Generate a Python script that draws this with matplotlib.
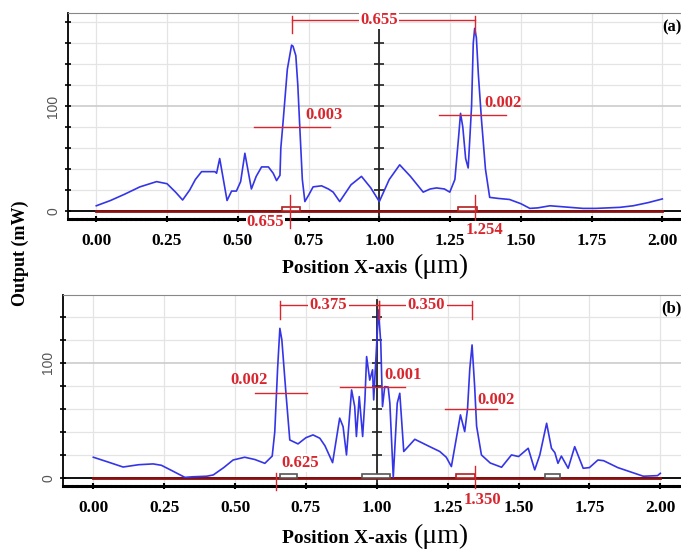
import numpy as np
import matplotlib.pyplot as plt
from matplotlib.patches import Rectangle

# panel (a) output along x
xa = [0.0, 0.05, 0.10, 0.154, 0.213, 0.25, 0.28, 0.305, 0.33, 0.35, 0.372, 0.419, 0.425,
      0.436, 0.462, 0.478, 0.495, 0.51, 0.525, 0.548, 0.565, 0.584, 0.608, 0.625, 0.637,
      0.649, 0.652, 0.66, 0.675, 0.69, 0.695, 0.705, 0.712, 0.719, 0.728, 0.737, 0.75,
      0.766, 0.796, 0.82, 0.837, 0.86, 0.90, 0.937, 0.97, 1.0, 1.035, 1.072, 1.11, 1.155,
      1.18, 1.202, 1.23, 1.249, 1.267, 1.28, 1.287, 1.295, 1.305, 1.314, 1.32, 1.326,
      1.332, 1.337, 1.343, 1.35, 1.361, 1.375, 1.39, 1.42, 1.46, 1.5, 1.532, 1.56, 1.603,
      1.65, 1.72, 1.765, 1.85, 1.897, 1.95, 2.0]
ya = [5, 10, 16, 23, 28, 26, 18, 10.5, 20, 30, 37.5, 37.5, 36,
      50, 10, 19, 19, 28, 55, 21, 33, 42, 42, 36, 29,
      34, 60, 85, 135, 158, 157, 148, 120, 80, 30, 9, 15,
      23, 24, 21, 18, 9, 25, 33, 22, 9, 30, 44, 33, 18,
      21, 22, 21, 18, 30, 70, 93, 80, 50, 41, 70, 100,
      160, 174, 165, 130, 87, 40, 13, 12, 11, 7, 2.5, 3, 5,
      4, 2.5, 2.5, 3.5, 5, 8, 11.5]

# panel (b) output along x
xb = [0.0, 0.05, 0.105, 0.16, 0.211, 0.24, 0.28, 0.323, 0.35, 0.4, 0.423, 0.46, 0.493,
      0.534, 0.57, 0.605, 0.631, 0.64, 0.65, 0.658, 0.665, 0.679, 0.693, 0.722, 0.75,
      0.775, 0.799, 0.817, 0.844, 0.869, 0.881, 0.893, 0.911, 0.922, 0.928, 0.938, 0.95,
      0.958, 0.964, 0.975, 0.985, 0.989, 0.997, 1.006, 1.014, 1.02, 1.028, 1.04, 1.046,
      1.058, 1.072, 1.081, 1.095, 1.134, 1.18, 1.222, 1.245, 1.263, 1.295, 1.31, 1.32,
      1.328, 1.336, 1.345, 1.352, 1.369, 1.40, 1.44, 1.475, 1.5, 1.534, 1.557, 1.575,
      1.599, 1.616, 1.628, 1.639, 1.651, 1.675, 1.698, 1.728, 1.75, 1.78, 1.80, 1.85,
      1.892, 1.94, 1.99, 2.0]
yb = [18, 14, 9.5, 11.5, 12.2, 11, 6, 0.5, 1, 1.5, 2.6, 9, 15.6,
      18, 16, 12.7, 19, 40, 95, 130, 120, 75, 33, 29.6, 35,
      37.4, 34.5, 28, 13.3, 52, 44.6, 20, 76.5, 62, 36, 70.7, 36,
      67.8, 105.5, 85, 94, 67.8, 105, 146, 117, 62, 79.4, 79, 65,
      0.5, 65, 73.6, 23, 33.6, 28, 23, 18, 9.9, 54.8, 40.3, 60,
      95, 115.6, 80, 45, 20, 13, 9.3, 20, 18.6, 25.8, 7, 20,
      47.5, 25.8, 22, 12.7, 19, 8.4, 27.2, 8.4, 9, 15.6, 15, 9,
      5.5, 1.5, 2, 4]

xticks = [0.0, 0.25, 0.5, 0.75, 1.0, 1.25, 1.5, 1.75, 2.0]
xtick_labels = ['0.00', '0.25', '0.50', '0.75', '1.00', '1.25', '1.50', '1.75', '2.00']

# peak-distance brackets: (x1, x2, y, label, label_x)
top_a = [(0.69, 1.337, 182, '0.655', 1.0)]
top_b = [(0.658, 1.006, 150, '0.375', 0.83), (1.006, 1.336, 150, '0.350', 1.175)]
# width markers: (x1, x2, y, label, label_x, label_y)
fw_a = [(0.557, 0.825, 80.3, '0.003', 0.74, 91), (1.211, 1.447, 91.4, '0.002', 1.37, 103)]
fw_b = [(0.57, 0.752, 74.2, '0.002', 0.485, 85), (0.869, 1.099, 79.4, '0.001', 1.028, 89.6),
        (1.24, 1.424, 59.7, '0.002', 1.356, 68)]
# cursor markers at bottom: (x, y1, y2, label, label_x, label_y)
cur_a = [(0.684, -16, 15, '0.655', 0.53, -10.5), (1.337, -9, 15, '1.254', 1.305, -18)]
cur_b = [(0.646, -10.5, 4, '0.625', 0.662, 13), (1.345, -9, 10, '1.350', 1.305, -19)]
# small boxes on the base line: (x1, x2, edge colour)
box_a = [(0.655, 0.72, '#b02020'), (1.278, 1.345, '#b02020')]
box_b = [(0.66, 0.72, '#555555'), (0.946, 1.046, '#555555'), (1.28, 1.345, '#b02020'),
         (1.593, 1.646, '#555555')]

RED = '#d9262e'
serif = 'Liberation Serif'

fig = plt.figure(figsize=(6.81, 5.49), dpi=100)
ax1 = fig.add_axes([68 / 681, 1 - 219 / 549, 613 / 681, 206 / 549])
ax2 = fig.add_axes([63 / 681, 1 - 486 / 549, 618 / 681, 191 / 549])


def panel(ax, x, y, xlim, ylim, ytop, tops, fws, curs, boxes, tag):
    ax.set_xlim(*xlim)
    ax.set_ylim(*ylim)
    ax.set_xticks(xticks)
    ax.set_xticklabels(xtick_labels, fontfamily=serif, fontweight='bold', fontsize=12.5)
    ax.set_yticks([0, 100])
    ax.set_yticks(np.arange(20, ytop, 20), minor=True)
    ax.set_yticklabels(['0', '100'], rotation=90, va='center', color='#555555',
                       fontfamily='Liberation Sans', fontsize=10)
    ax.tick_params(axis='x', direction='inout', length=4, width=1.5, pad=8)
    ax.tick_params(axis='y', which='both', direction='inout', length=5, width=1.2, pad=3)
    ax.grid(True, which='both', color='#e4e4e4', lw=0.9)
    ax.grid(True, which='major', axis='y', color='#cccccc', lw=1.2)
    ax.set_axisbelow(True)
    ax.spines['right'].set_visible(False)
    ax.spines['top'].set_linestyle((0, (1, 1)))
    ax.spines['top'].set_color('#888888')
    ax.spines['bottom'].set_linewidth(2.2)
    ax.spines['bottom'].set_linestyle((0, (1, 0.6)))
    ax.spines['left'].set_linewidth(1.3)

    # base lines and centre axis
    ax.axhline(0, color='black', lw=1.3, zorder=2)
    ax.plot([0, 2], [0, 0], color='#8b1010', lw=2, zorder=3)
    ax.plot([1, 1], [ylim[0], ytop], color='#222222', lw=1.3, zorder=2)
    ax.plot([1] * len(np.arange(20, ytop - 5, 20)), np.arange(20, ytop - 5, 20), ls='none',
            marker='_', ms=7, mew=1.2, color='#222222', zorder=2)

    for x1, x2, ec in boxes:
        ax.add_patch(Rectangle((x1, 0), x2 - x1, 3.5, fc='white', ec=ec, lw=1.2, zorder=4))

    ax.plot(x, y, color='#3535e8', lw=1.2, zorder=5)

    tk = dict(color=RED, fontfamily=serif, fontweight='bold', fontsize=12)
    for x1, x2, yy, lab, lx in tops:
        ax.plot([x1, x2], [yy, yy], color=RED, lw=1, zorder=6, clip_on=False)
        ax.plot([x1, x1], [yy - 12, yy + 4], color=RED, lw=1, zorder=6, clip_on=False)
        ax.plot([x2, x2], [yy - 12, yy + 4], color=RED, lw=1, zorder=6, clip_on=False)
        ax.text(lx, yy, lab, ha='center', va='center', zorder=7,
                bbox=dict(fc='white', ec='none', pad=1), **tk)
    for x1, x2, yy, lab, lx, ly in fws:
        ax.plot([x1, x2], [yy, yy], color=RED, lw=1, zorder=6)
        ax.text(lx, ly, lab, ha='left', va='center', zorder=7, **tk)
    for cx, y1, y2, lab, lx, ly in curs:
        ax.plot([cx, cx], [y1, y2], color=RED, lw=1, zorder=6, clip_on=False)
        ax.text(lx, ly, lab, ha='left', va='center', zorder=7, clip_on=False,
                bbox=dict(fc='white', ec='none', pad=0.5), **tk)

    ax.text(0.985, 0.93, tag, transform=ax.transAxes, ha='center', va='center',
            fontfamily=serif, fontweight='bold', fontsize=12)


panel(ax1, xa, ya, (-0.1, 2.066), (-7.6, 188.6), 185, top_a, fw_a, cur_a, box_a, '(a)')
panel(ax2, xb, yb, (-0.107, 2.073), (-7, 159), 155, top_b, fw_b, cur_b, box_b, '(b)')

# axis titles
fig.text(20 / 681, 1 - 253 / 549, 'Output (mW)', rotation=90, ha='center', va='center',
         fontfamily=serif, fontweight='bold', fontsize=13)
for base in (273, 543):
    fig.text(412 / 681, 1 - base / 549, 'Position X-axis ', ha='right', va='baseline',
             fontfamily=serif, fontweight='bold', fontsize=14)
    fig.text(414 / 681, 1 - base / 549, '(\u03bcm)', ha='left', va='baseline',
             fontfamily=serif, fontsize=20)

fig.savefig('out.png', dpi=100)
